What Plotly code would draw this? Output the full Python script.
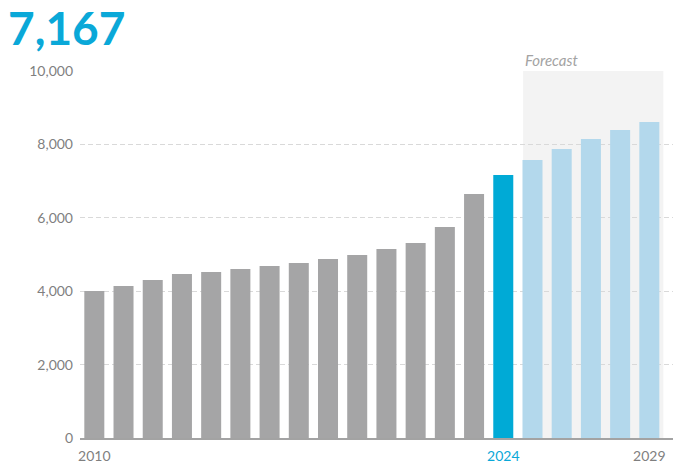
import plotly.graph_objects as go

years = list(range(2010, 2030))
values = [4005, 4140, 4305, 4470, 4525, 4605, 4690, 4770, 4880, 4985,
          5150, 5310, 5750, 6650, 7167, 7575, 7875, 8145, 8390, 8610]
headline = "7,167"
tick_years = [2010, 2024, 2029]
tick_labels = ["2010", "<span style='color:#0aa8d8'>2024</span>", "2029"]
y_ticks = [0, 2000, 4000, 6000, 8000, 10000]
y_labels = ["0", "2,000", "4,000", "6,000", "8,000", "10,000"]
forecast_start = 2025
current_year = 2024

colors = []
for y in years:
    if y < current_year:
        colors.append("#a5a5a6")
    elif y == current_year:
        colors.append("#00aad6")
    else:
        colors.append("#b3d8ec")

fig = go.Figure()
fig.add_trace(go.Bar(x=years, y=values, marker=dict(color=colors, line=dict(width=0)),
                     width=0.685, hoverinfo="x+y"))

fig.add_shape(type="rect", xref="x", yref="y", x0=forecast_start - 0.32, x1=2029.48,
              y0=0, y1=10000, fillcolor="#f3f3f3", line=dict(width=0), layer="below")

fig.add_annotation(x=forecast_start - 0.32, y=10000, xref="x", yref="y", text="<i>Forecast</i>",
                   showarrow=False, xanchor="left", yanchor="bottom", yshift=0,
                   font=dict(family="Lato", size=15, color="#a3a3a3"))

# headline number
fig.add_annotation(x=-74 / 593, y=1 + (71 - 27) / 367, xref="paper", yref="paper",
                   text="<b>" + headline + "</b>", showarrow=False,
                   xanchor="left", yanchor="middle",
                   font=dict(family="Lato", size=46, color="#0aa8d8"))

fig.update_layout(
    width=686, height=470,
    margin=dict(l=80, r=13, t=71, b=32, autoexpand=False),
    paper_bgcolor="white", plot_bgcolor="white",
    showlegend=False,
    font=dict(family="Lato", size=14, color="#7f7f7f"),
    bargap=0.3,
)
fig.update_xaxes(range=[2009.51, 2029.81], tickvals=tick_years, ticktext=tick_labels,
                 showgrid=False, zeroline=False, showline=True, linecolor="#a3a3a3",
                 linewidth=2, ticks="", ticklabelstandoff=4, automargin=False,
                 tickfont=dict(family="Lato", size=14, color="#7f7f7f"))
fig.update_yaxes(range=[0, 10000], tickvals=y_ticks, ticktext=y_labels, showgrid=True,
                 gridcolor="#d9d9d9", griddash="5px,3px", gridwidth=1, zeroline=False,
                 showline=False, ticks="", ticklabelstandoff=6, automargin=False,
                 tickfont=dict(family="Lato", size=14, color="#7f7f7f"))

fig.write_html("out.html", config={"displayModeBar": False},
               post_script="document.body.style.margin='0';")
